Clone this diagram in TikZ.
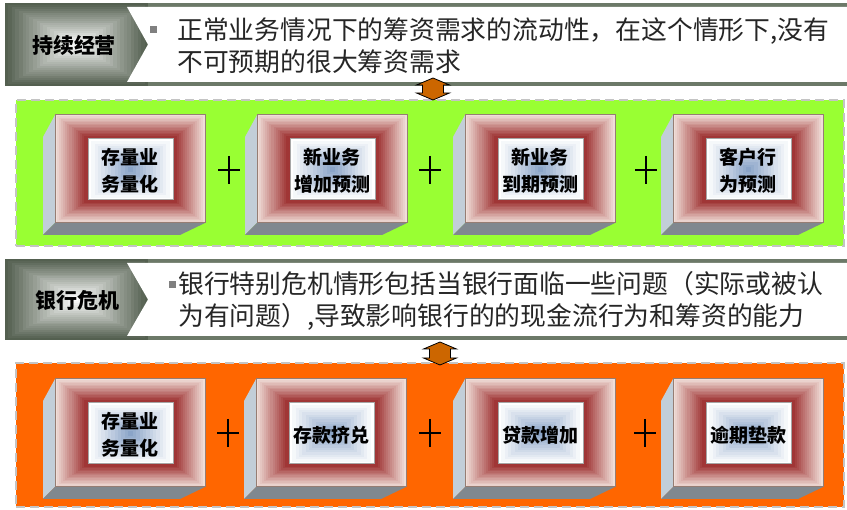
\documentclass[tikz,border=0pt]{standalone}
\usepackage{fontspec}
\newfontfamily\cjk{Noto Sans CJK SC}
\definecolor{bandgray}{RGB}{108,121,104}
\definecolor{labeledge}{RGB}{84,96,80}
\definecolor{panelgreen}{RGB}{153,255,51}
\definecolor{panelorange}{RGB}{255,102,0}
\definecolor{dashgray}{RGB}{196,196,196}
\definecolor{arroworange}{RGB}{204,102,0}
\definecolor{framepale}{RGB}{240,222,216}
\definecolor{framedark}{RGB}{160,54,54}
\definecolor{innerblue}{RGB}{118,148,190}
\definecolor{sideface}{RGB}{194,206,216}
\definecolor{bottomface}{RGB}{128,136,143}

\begin{document}
\begin{tikzpicture}
[x=1pt,y=-1pt,
 hdrlabel/.style={font=\cjk\bfseries\fontsize{21}{26}\selectfont,inner sep=0},
 hdrtext/.style={font=\cjk\fontsize{25.8}{32}\selectfont,align=left,anchor=west,inner sep=0,text=black!85},
 bulletsq/.style={fill=gray,minimum size=7pt,inner sep=0},
 panel/.style={draw=dashgray,line width=2.5pt,dash pattern=on 9pt off 5pt,inner sep=0},
 blocktxt/.style={font=\cjk\bfseries\fontsize{19}{27}\selectfont,align=center,inner sep=0},
 frameline/.style={draw={rgb,255:red,150;green,125;blue,115},line width=1pt},
 linkarrow/.style={draw=black,fill=arroworange,line width=0.8pt,line join=miter},
 plus/.style={line width=2.5pt}]
\useasboundingbox (0,0) rectangle (847,510);

% header bars
\foreach \ht/\hb in {3/86,259/340} {
  \fill[bandgray] (5,\ht) rectangle (847,\hb);
  \pgfmathsetmacro\hm{(\ht+\hb)/2}
  \foreach \i in {0,...,20} {
    \pgfmathsetmacro\t{\i/20}
    \pgfmathtruncatemacro\p{100*\t}
    \pgfmathsetmacro\dy{0.48*\t*\hb-0.48*\t*\ht}
    \fill[white!\p!labeledge] (5+70*\t,\ht+\dy) rectangle (148-70*\t,\hb-\dy);
  }
  \fill[white] (127,\ht+4) -- (847,\ht+4) -- (847,\hb-4) -- (127,\hb-4) -- (148,\hm) -- cycle;
}
\node[hdrlabel] (hdrA) at (74,45) {持续经营};
\node[bulletsq] (dotA) at (153,30) {};
\node[hdrtext] (txtA) at (177,46) {正常业务情况下的筹资需求的流动性，在这个情形下,没有\\不可预期的很大筹资需求};
\node[hdrlabel] (hdrB) at (77,301) {银行危机};
\node[bulletsq] (dotB) at (172,285) {};
\node[hdrtext] (txtB) at (178,301) {银行特别危机情形包括当银行面临一些问题（实际或被认\\为有问题）,导致影响银行的的现金流行为和筹资的能力};

% panels
\node[panel,fill=panelgreen,minimum width=828pt,minimum height=146pt] (panelA) at (430,173) {};
\node[panel,fill=panelorange,minimum width=828pt,minimum height=144pt] (panelB) at (430,435) {};

% blocks
\foreach \bx/\by/\nm/\txt in {55/115/qa/{存量业\\务量化},257/115/qb/{新业务\\增加预测},465/115/qc/{新业务\\到期预测},673/115/qd/{客户行\\为预测},
  55/379/ka/{存量业\\务量化},256/379/kb/{存款挤兑},465/379/kc/{贷款增加},673/379/kd/{逾期垫款}} {
  \fill[sideface] (\bx,\by) -- (\bx-12,\by+22) -- (\bx-12,\by+120) -- (\bx,\by+108) -- cycle;
  \fill[bottomface] (\bx,\by+108) -- (\bx-12,\by+120) -- (\bx+125,\by+120) -- (\bx+150,\by+108) -- cycle;
  \foreach \i in {0,...,16} {
    \pgfmathsetmacro\t{\i/16}
    \pgfmathtruncatemacro\p{min(100,115*\t)}
    \fill[framedark!\p!framepale] (\bx+33*\t,\by+24*\t) rectangle (\bx+150-32*\t,\by+108-23*\t);
  }
  \draw[frameline] (\bx,\by) rectangle (\bx+150,\by+108);
  \foreach \i in {0,...,12} {
    \pgfmathsetmacro\t{\i/12}
    \pgfmathtruncatemacro\p{85*\t}
    \fill[innerblue!\p!white] (\bx+33+40*\t,\by+24+28*\t) rectangle (\bx+118-40*\t,\by+85-28*\t);
  }
  \draw[gray!70,line width=1pt] (\bx+33,\by+24) rectangle (\bx+118,\by+85);
  \node[blocktxt] (\nm) at (\bx+75,\by+56) {\txt};
}
\foreach \px/\py in {229/170,430/170,646/170,228/433,430/433,645/433}
\draw[plus] (\px-11,\py) -- (\px+11,\py) (\px,\py-14) -- (\px,\py+14);

% links between bars and panels
\foreach \ax/\ay/\al in {433/89/11,440/353.5/11.5}
\draw[linkarrow] (\ax,\ay-\al) -- (\ax+16.5,\ay-\al+7) -- (\ax+10.5,\ay-\al+7) -- (\ax+10.5,\ay+\al-7)
  -- (\ax+16.5,\ay+\al-7) -- (\ax,\ay+\al) -- (\ax-16.5,\ay+\al-7) -- (\ax-10.5,\ay+\al-7)
  -- (\ax-10.5,\ay-\al+7) -- (\ax-16.5,\ay-\al+7) -- cycle;
\end{tikzpicture}
\end{document}
